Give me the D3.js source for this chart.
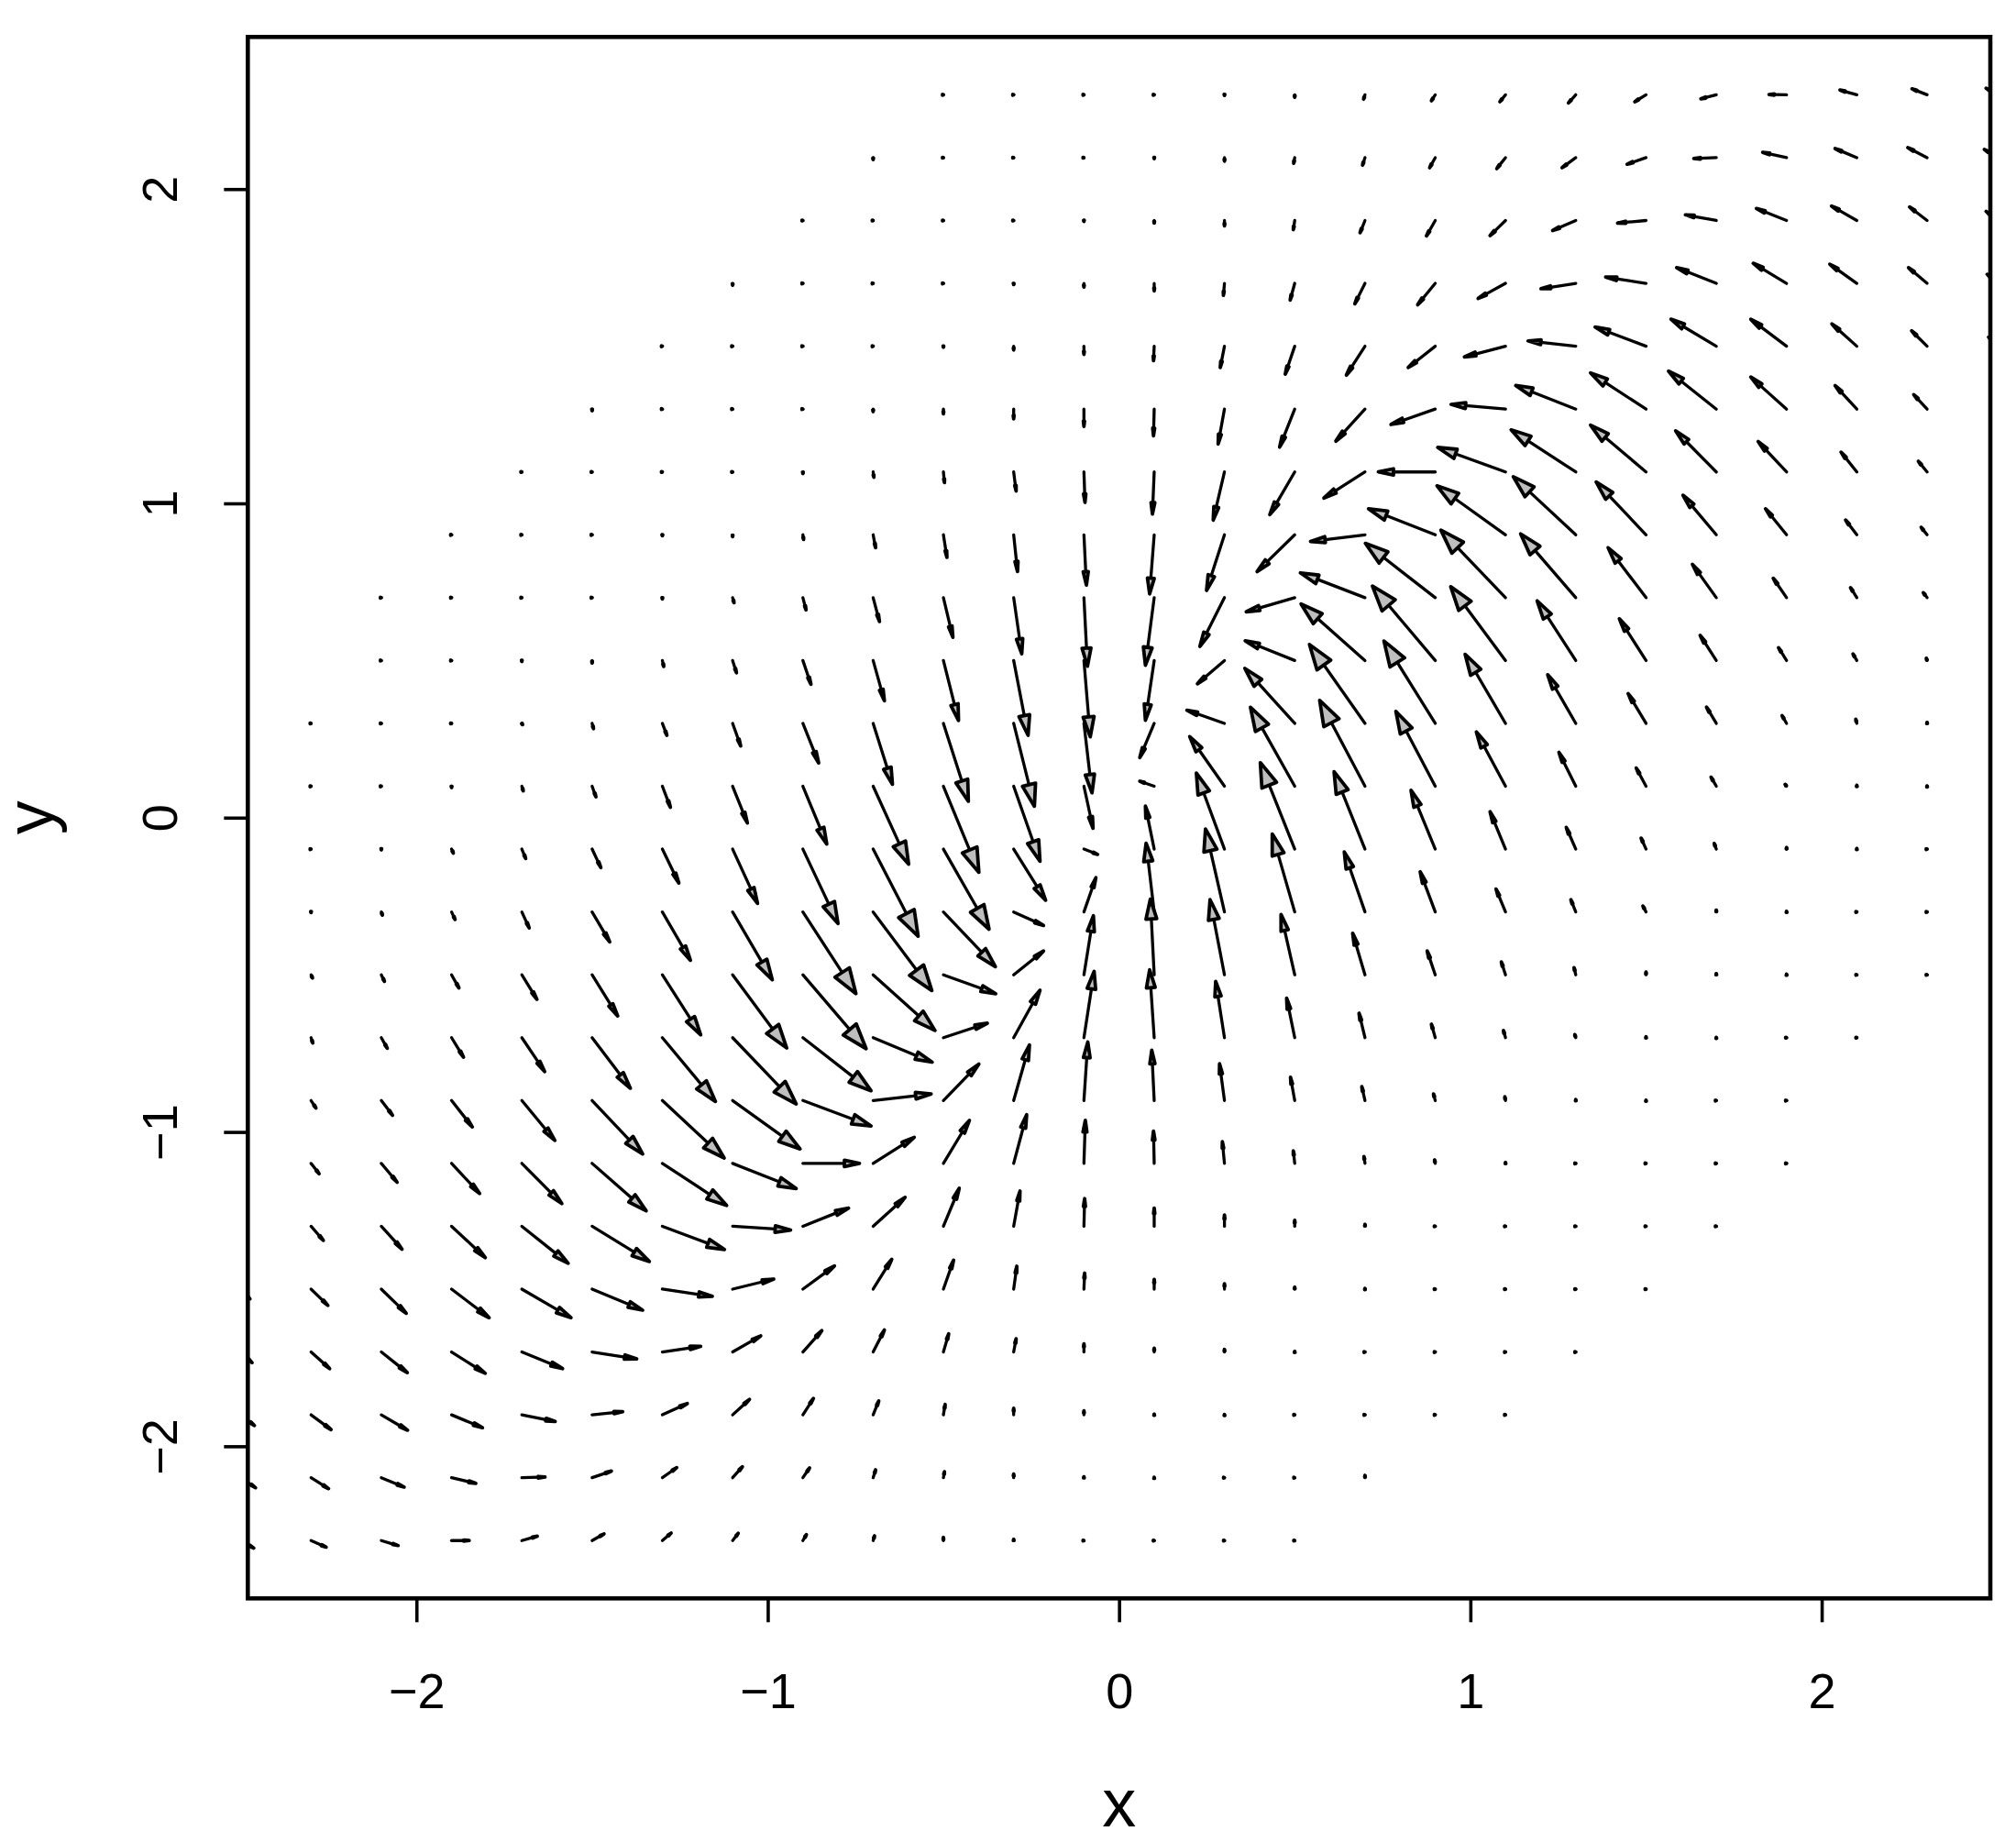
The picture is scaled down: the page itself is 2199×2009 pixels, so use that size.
<!DOCTYPE html>
<html>
<head>
<meta charset="utf-8">
<script src="https://d3js.org/d3.v7.min.js"></script>
<style>
  html, body { margin: 0; padding: 0; background: #fff; }
  svg { display: block; }
  text { font-family: "Liberation Sans", Arial, sans-serif; fill: #000; }
</style>
</head>
<body>
<script>
// grid of arrow tails
var xGrid = [-2.5,-2.3,-2.1,-1.9,-1.7,-1.5,-1.3,-1.1,-0.9,-0.7,-0.5,-0.3,-0.1,0.1,0.3,0.5,0.7,0.9,1.1,1.3,1.5,1.7,1.9,2.1,2.3,2.5];
var yGrid = [2.3,2.1,1.9,1.7,1.5,1.3,1.1,0.9,0.7,0.5,0.3,0.1,-0.1,-0.3,-0.5,-0.7,-0.9,-1.1,-1.3,-1.5,-1.7,-1.9,-2.1,-2.3];
var N = null;

// arrow x component, one row per yGrid entry (null = no arrow)
var uRows = [
  [N,N,N,N,N,N,N,N,N,N,0,0,0,0,0,0,-.004,-.011,-.016,-.021,-.032,-.044,-.050,-.048,-.043,-.032],
  [N,N,N,N,N,N,N,N,N,0,0,0,0,0,0,-.003,-.007,-.016,-.025,-.039,-.054,-.064,-.068,-.062,-.055,-.037],
  [N,N,N,N,N,N,N,N,0,0,0,0,0,0,0,-.004,-.014,-.025,-.044,-.066,-.081,-.088,-.086,-.072,-.050,-.032],
  [N,N,N,N,N,N,N,0,0,0,0,0,0,0,-.003,-.013,-.029,-.050,-.078,-.099,-.115,-.113,-.095,-.077,-.053,-.029],
  [N,N,N,N,N,N,0,0,0,0,0,0,0,-.002,-.012,-.027,-.053,-.077,-.117,-.136,-.145,-.129,-.102,-.071,-.044,-.025],
  [N,N,N,N,N,0,0,0,0,0,0,0,0,-.002,-.018,-.043,-.083,-.126,-.155,-.171,-.158,-.136,-.102,-.062,-.038,N],
  [N,N,N,N,0,0,0,0,0,.002,.003,.007,.003,-.005,-.032,-.071,-.117,-.162,-.193,-.184,-.158,-.116,-.081,-.045,-.025,N],
  [N,N,N,0,0,0,0,0,.002,.007,.010,.011,.007,-.013,-.051,-.107,-.155,-.190,-.195,-.178,-.142,-.095,-.060,-.032,-.017,N],
  [N,N,0,0,0,0,0,.004,.009,.018,.027,.023,.010,-.025,-.070,-.138,-.184,-.199,-.184,-.157,-.108,-.068,-.038,-.018,-.011,N],
  [N,N,0,0,0,0,.004,.011,.023,.032,.043,.041,.018,-.025,-.077,-.141,-.182,-.179,-.156,-.110,-.076,-.046,-.023,-.011,-.002,N],
  [N,0,0,0,.002,.004,.013,.023,.045,.055,.071,.059,.023,-.041,-.107,-.142,-.158,-.146,-.115,-.080,-.051,-.028,-.013,-.003,0,N],
  [N,0,0,0,.004,.011,.023,.042,.068,.101,.101,.075,.026,-.041,-.099,-.126,-.129,-.112,-.083,-.048,-.028,-.015,-.004,0,0,N],
  [N,0,0,.005,.011,.025,.047,.071,.100,.128,.130,.091,.039,-.025,-.080,-.098,-.088,-.069,-.044,-.027,-.014,-.006,0,0,0,N],
  [N,0,.003,.010,.021,.050,.080,.113,.151,.167,.148,.085,.034,-.023,-.054,-.064,-.059,-.043,-.027,-.014,-.009,0,0,0,0,N],
  [N,.004,.009,.021,.043,.073,.109,.154,.180,.176,.149,.085,.027,-.011,-.041,-.039,-.035,-.023,-.012,-.005,0,0,0,0,0,N],
  [N,.005,.017,.034,.065,.109,.151,.181,.194,.168,.125,.075,.029,-.013,-.025,-.023,-.017,-.011,-.006,-.003,0,0,0,0,N,N],
  [N,.014,.032,.059,.094,.144,.176,.192,.194,.165,.101,.045,.011,-.007,-.014,-.012,-.009,-.005,-.002,0,0,0,0,N,N,N],
  [N,.023,.045,.080,.114,.154,.183,.181,.161,.117,.074,.037,.004,-.002,-.006,-.004,-.003,-.002,0,0,0,0,0,N,N,N],
  [N,.035,.059,.096,.132,.163,.177,.165,.130,.091,.045,.018,.002,0,0,0,0,0,0,0,0,0,N,N,N,N],
  [.026,.048,.071,.107,.140,.144,.142,.117,.090,.053,.029,.009,.002,0,0,0,0,0,0,0,0,N,N,N,N,N],
  [.032,.053,.074,.096,.116,.127,.109,.080,.054,.032,.015,.007,0,0,0,0,0,0,0,0,N,N,N,N,N,N],
  [.039,.057,.075,.088,.095,.087,.071,.048,.030,.016,.005,0,0,0,0,0,0,0,0,N,N,N,N,N,N,N],
  [.042,.050,.065,.069,.066,.055,.041,.028,.019,.007,.003,0,0,0,0,0,0,N,N,N,N,N,N,N,N,N],
  [.037,.043,.048,.050,.044,.034,.025,.016,.010,.004,0,0,0,0,0,0,N,N,N,N,N,N,N,N,N,N]
];

// arrow y component, same layout
var vRows = [
  [N,N,N,N,N,N,N,N,N,N,0,0,0,0,-.002,-.008,-.014,-.019,-.022,-.026,-.022,-.013,.001,.015,.019,.021],
  [N,N,N,N,N,N,N,N,N,-.006,0,0,0,-.003,-.011,-.018,-.024,-.032,-.035,-.032,-.021,-.003,.017,.029,.032,.026],
  [N,N,N,N,N,N,N,N,0,0,0,0,-.003,-.008,-.017,-.029,-.039,-.049,-.048,-.032,-.008,.018,.038,.046,.043,.029],
  [N,N,N,N,N,N,N,-.006,0,0,0,-.004,-.012,-.024,-.038,-.053,-.065,-.068,-.048,-.017,.020,.050,.064,.061,.050,.029],
  [N,N,N,N,N,N,0,0,0,0,-.003,-.012,-.026,-.046,-.068,-.089,-.092,-.068,-.034,.017,.061,.086,.086,.071,.049,.029],
  [N,N,N,N,N,-.005,0,0,0,-.008,-.015,-.031,-.055,-.085,-.111,-.121,-.102,-.049,.015,.075,.115,.121,.102,.075,.046,N],
  [N,N,N,N,0,0,0,0,-.005,-.017,-.034,-.061,-.097,-.134,-.153,-.136,-.083,0,.078,.134,.149,.131,.097,.063,.034,N],
  [N,N,N,0,0,0,-.003,-.006,-.015,-.041,-.072,-.117,-.160,-.188,-.177,-.117,-.021,.083,.156,.185,.168,.126,.083,.047,.024,N],
  [N,N,0,0,0,0,-.004,-.016,-.039,-.076,-.126,-.179,-.218,-.215,-.155,-.045,.079,.173,.215,.203,.159,.106,.062,.032,.016,N],
  [N,N,0,0,-.003,-.008,-.019,-.039,-.076,-.128,-.191,-.238,-.243,-.190,-.074,.063,.180,.237,.235,.190,.133,.080,.041,.021,.007,N],
  [N,0,0,0,-.004,-.017,-.038,-.072,-.126,-.194,-.248,-.264,-.221,-.109,.042,.175,.251,.262,.220,.155,.095,.052,.025,.013,.003,N],
  [N,0,0,-.004,-.015,-.034,-.067,-.117,-.184,-.248,-.274,-.239,-.134,.016,.158,.251,.273,.238,.173,.108,.058,.029,.006,.003,.001,N],
  [N,0,-.002,-.013,-.030,-.059,-.108,-.173,-.237,-.277,-.255,-.163,-.017,.137,.242,.275,.246,.187,.119,.069,.035,.018,.005,.002,0,N],
  [N,-.002,-.010,-.024,-.051,-.095,-.154,-.216,-.260,-.250,-.174,-.043,.109,.219,.264,.248,.191,.128,.073,.039,.019,.006,.002,0,0,N],
  [N,-.010,-.021,-.042,-.078,-.131,-.191,-.233,-.235,-.177,-.060,.076,.188,.241,.239,.192,.132,.076,.041,.023,.009,.004,.002,0,0,N],
  [N,-.017,-.034,-.062,-.108,-.161,-.203,-.211,-.169,-.078,.046,.151,.211,.216,.179,.126,.078,.043,.023,.010,.003,.001,0,0,N,N],
  [N,-.024,-.047,-.084,-.127,-.170,-.183,-.154,-.081,.021,.116,.177,.186,.160,.117,.074,.044,.021,.012,.003,.001,0,0,N,N,N],
  [N,-.033,-.060,-.096,-.128,-.151,-.134,-.080,0,.083,.137,.155,.137,.103,.069,.040,.022,.011,.003,0,0,0,0,N,N,N],
  [N,-.045,-.073,-.100,-.118,-.112,-.074,-.012,.058,.092,.121,.112,.088,.058,.036,.019,.006,0,0,0,0,0,N,N,N,N],
  [-.031,-.052,-.077,-.091,-.091,-.067,-.023,.032,.074,.095,.092,.073,.051,.031,.017,.006,.002,0,0,0,0,N,N,N,N,N],
  [-.034,-.053,-.066,-.068,-.053,-.022,.018,.051,.068,.070,.058,.042,.026,.012,.008,.002,0,0,0,0,N,N,N,N,N,N],
  [-.034,-.047,-.049,-.041,-.021,.010,.036,.049,.052,.044,.033,.021,.013,.002,.001,0,0,0,0,N,N,N,N,N,N,N],
  [-.032,-.035,-.030,-.018,.002,.021,.032,.035,.031,.025,.019,.012,.003,.001,0,0,.007,N,N,N,N,N,N,N,N,N],
  [-.024,-.021,-.016,0,.014,.021,.024,.023,.019,.015,.010,.004,0,0,0,0,N,N,N,N,N,N,N,N,N,N]
];

var xTicks = [-2,-1,0,1,2];
var yTicks = [-2,-1,0,1,2];

var width = 2199, height = 2009;
var left = 270.3, right = 2171, top_ = 40.3, bottom = 1743.3;

var svg = d3.select("body").append("svg")
  .attr("width", width)
  .attr("height", height);

var x = d3.scaleLinear().domain([-2.48, 2.48]).range([left, right]);
var y = d3.scaleLinear().domain([-2.484, 2.484]).range([bottom, top_]);

svg.append("clipPath").attr("id", "plot")
  .append("rect")
  .attr("x", left).attr("y", top_)
  .attr("width", right - left).attr("height", bottom - top_);

// flatten to one record per arrow
var arrows = [];
yGrid.forEach(function(yv, i) {
  xGrid.forEach(function(xv, j) {
    if (uRows[i][j] === null) return;
    arrows.push({x: xv, y: yv, u: uRows[i][j], v: vRows[i][j]});
  });
});

// arrow geometry in pixels: head length follows the arrow, head width grows faster
function geom(d) {
  var x0 = x(d.x), y0 = y(d.y), x1 = x(d.x + d.u), y1 = y(d.y + d.v);
  var len = Math.hypot(x1 - x0, y1 - y0);
  var a = Math.atan2(y1 - y0, x1 - x0);
  var hl = 0.25 * len + 1;
  var hw = 0.4 + 8 * (len / 100) * (len / 100);
  var bx = x1 - hl * Math.cos(a), by = y1 - hl * Math.sin(a);
  var nx = -Math.sin(a), ny = Math.cos(a);
  return {x0: x0, y0: y0, x1: x1, y1: y1, bx: bx, by: by, nx: nx, ny: ny, hw: hw, len: len};
}

var g = svg.append("g").attr("clip-path", "url(#plot)");

var arrow = g.selectAll("g.arrow")
  .data(arrows)
  .enter().append("g")
  .attr("class", "arrow");

arrow.append("path")
  .attr("d", function(d) {
    var p = geom(d);
    if (p.len < 4) return "M" + p.x0 + "," + p.y0 + "L" + p.x1 + "," + p.y1;
    return "M" + p.x0 + "," + p.y0 + "L" + p.bx + "," + p.by;
  })
  .attr("fill", "none")
  .attr("stroke", "#000")
  .attr("stroke-width", 3.3)
  .attr("stroke-linecap", "round");

arrow.append("path")
  .attr("d", function(d) {
    var p = geom(d);
    return "M" + p.x1 + "," + p.y1 +
      "L" + (p.bx + p.nx * p.hw) + "," + (p.by + p.ny * p.hw) +
      "L" + (p.bx - p.nx * p.hw) + "," + (p.by - p.ny * p.hw) + "Z";
  })
  .attr("fill", "#bebebe")
  .attr("stroke", "#000")
  .attr("stroke-width", 3.8)
  .attr("stroke-linejoin", "round");

// box
svg.append("rect")
  .attr("x", left).attr("y", top_)
  .attr("width", right - left).attr("height", bottom - top_)
  .attr("fill", "none")
  .attr("stroke", "#000")
  .attr("stroke-width", 4.6);

// axes
var xAxis = d3.axisBottom(x).tickValues(xTicks).tickFormat(d3.format("d")).tickSize(26).tickPadding(55);
var yAxis = d3.axisLeft(y).tickValues(yTicks).tickFormat(d3.format("d")).tickSize(26);

var gx = svg.append("g").attr("transform", "translate(0," + bottom + ")").call(xAxis);
var gy = svg.append("g").attr("transform", "translate(" + left + ",0)").call(yAxis);

[gx, gy].forEach(function(a) {
  a.select(".domain").remove();
  a.selectAll(".tick line").attr("stroke", "#000").attr("stroke-width", 3.6);
  a.selectAll(".tick text").style("font-size", "54px").attr("fill", "#000");
});

// R style: y tick labels read upwards
gy.selectAll(".tick text")
  .attr("x", null).attr("dy", null)
  .attr("text-anchor", "middle")
  .attr("transform", "translate(-77,0) rotate(-90)");

svg.append("text")
  .attr("x", x(0)).attr("y", 1992)
  .attr("text-anchor", "middle")
  .style("font-size", "74px")
  .text("x");

svg.append("text")
  .attr("transform", "translate(58," + y(0) + ") rotate(-90)")
  .attr("text-anchor", "middle")
  .style("font-size", "74px")
  .text("y");
</script>
</body>
</html>
